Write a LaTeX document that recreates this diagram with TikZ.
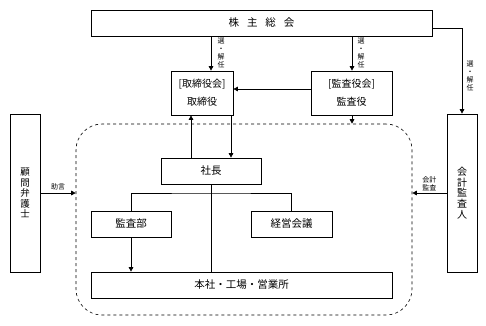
\documentclass[tikz,border=0pt]{standalone}
\usepackage{fontspec}
\setmainfont{Noto Sans CJK JP}
\usetikzlibrary{positioning,arrows.meta}

\begin{document}
\begin{tikzpicture}[
    x=1pt, y=-1pt,
    box/.style={draw, line width=0.7pt, inner sep=0pt, align=center, font=\fontsize{10.5}{12}\selectfont},
    tate/.style={box, font=\fontsize{9.5}{10.5}\selectfont},
    arr/.style={-{Triangle[length=4.5pt,width=4.5pt]}, line width=0.7pt},
    lbl/.style={inner sep=0pt, align=center, font=\fontsize{7}{7.8}\selectfont}
]
\useasboundingbox (0,0) rectangle (486,325);

  % Top: shareholders and officers
  \node[box, minimum width=341, minimum height=26] (soukai) at (261.5,23)
    {株\hspace{0.75em}主\hspace{0.75em}総\hspace{0.75em}会};
  \node[box, minimum width=62, minimum height=44, font=\fontsize{10}{18}\selectfont] (torishimari) at (202,93)
    {[取締役会]\\取締役};
  \node[box, minimum width=81, minimum height=44, font=\fontsize{10}{18}\selectfont] (kansayaku) at (351.5,93)
    {[監査役会]\\監査役};

  % Side boxes
  \node[tate, minimum width=30, minimum height=158] (komon) at (25,193)
    {顧\\問\\弁\\護\\士};
  \node[tate, minimum width=30, minimum height=158, font=\fontsize{10}{10.6}\selectfont] (kaikei) at (462,193)
    {会\\計\\監\\査\\人};

  % Company (dashed group)
  \node[draw, dashed, line width=0.6pt, rounded corners=26, minimum width=336, minimum height=191] (group) at (244,219.5) {};
  \node[box, minimum width=100, minimum height=26] (shacho) at (211,171) {社長};
  \node[box, minimum width=80, minimum height=26] (kansabu) at (131,224) {監査部};
  \node[box, minimum width=81, minimum height=26] (keiei) at (291.5,224) {経営会議};
  \node[box, minimum width=301, minimum height=26] (honsha) at (241.5,285) {本社・工場・営業所};
  \coordinate (branch) at (211,193);

  % Election arrows
\draw[arr] (soukai.south -| 211,0) -- (torishimari.north -| 211,0);
\draw[arr] (soukai.south -| 352,0) -- (kansayaku.north -| 352,0);
\draw[arr] ([yshift=-5pt]soukai.east) -| (kaikei.north);
\node[lbl] at (221,53) {選\\・\\解\\任};
\node[lbl] at (361,53) {選\\・\\解\\任};
\node[lbl] at (470,76) {選\\・\\解\\任};

  % Board and auditors
\draw[arr] ([yshift=4pt]kansayaku.west) -- ([yshift=4pt]torishimari.east);
\draw[arr] (kansayaku.south -| 352,0) -- (group.north -| 352,0);
\draw[arr] (shacho.north -| 191,0) -- (torishimari.south -| 191,0);
\draw[arr] (torishimari.south -| 231,0) -- (shacho.north -| 231,0);

  % Advice and accounting audit
\draw[arr] (komon.east) -- (komon.east -| group.west) node[lbl, midway, above=3pt] {助言};
\draw[arr] (kaikei.west) -- (kaikei.west -| group.east) node[lbl, midway, above=2pt] {会計\\監査};

  % Inside the company
\draw[line width=0.7pt] (shacho.south) -- (shacho.south |- honsha.north);
\draw[line width=0.7pt] (kansabu.north) |- (branch) -| (keiei.north);
\draw[arr] (kansabu.south) -- (kansabu.south |- honsha.north);
\end{tikzpicture}
\end{document}
